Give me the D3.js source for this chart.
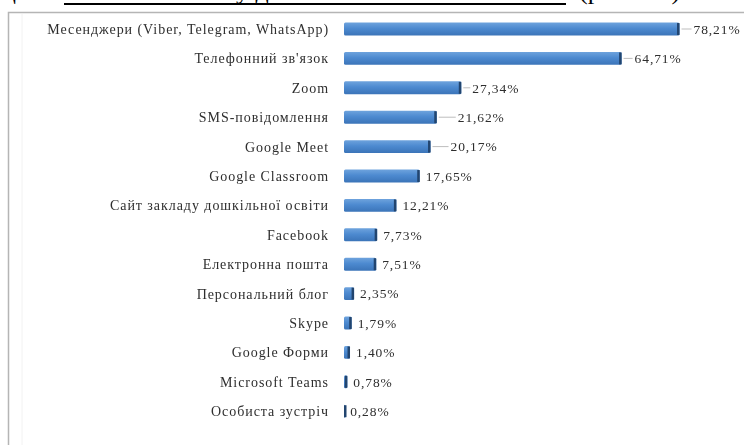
<!DOCTYPE html>
<html><head><meta charset="utf-8">
<script src="https://cdn.jsdelivr.net/npm/d3@7/dist/d3.min.js"></script>
<style>html,body{margin:0;padding:0;background:#fff;}svg{display:block;}</style>
</head><body>
<svg id="chart" width="744" height="445"></svg>
<script>
const categories = [
  "Месенджери (Viber, Telegram, WhatsApp)",
  "Телефонний зв'язок",
  "Zoom",
  "SMS-повідомлення",
  "Google Meet",
  "Google Classroom",
  "Сайт закладу дошкільної освіти",
  "Facebook",
  "Електронна пошта",
  "Персональний блог",
  "Skype",
  "Google Форми",
  "Microsoft Teams",
  "Особиста зустріч"
];
const values = [78.21, 64.71, 27.34, 21.62, 20.17, 17.65, 12.21, 7.73, 7.51, 2.35, 1.79, 1.40, 0.78, 0.28];
const valueLabels = ["78,21%","64,71%","27,34%","21,62%","20,17%","17,65%","12,21%","7,73%","7,51%","2,35%","1,79%","1,40%","0,78%","0,28%"];

const svg = d3.select("#chart");
svg.append("rect").attr("width",744).attr("height",445).attr("fill","#fff");

// page fragment above the figure (cut off in the reference as well)
svg.append("line").attr("x1",64).attr("x2",566).attr("y1",4).attr("y2",4)
  .attr("stroke","#000").attr("stroke-width",2);
const topText = svg.append("g").attr("font-family","Liberation Serif").attr("font-size",26).attr("fill","#000");
topText.append("text").attr("x",2).attr("y",-1).text("ц");
topText.append("text").attr("x",236).attr("y",-1).text("у д");
topText.append("text").attr("x",579).attr("y",-1).text("(рис. 2.6).");

// chart frame
svg.append("rect").attr("x",8.5).attr("y",12.5).attr("width",800).attr("height",500)
  .attr("fill","none").attr("stroke","#b5b5b5").attr("stroke-width",1.5);
svg.append("line").attr("x1",22).attr("x2",22).attr("y1",14).attr("y2",445)
  .attr("stroke","#f2f2f2").attr("stroke-width",1);

const defs = svg.append("defs");
const grad = defs.append("linearGradient").attr("id","barGrad").attr("x1",0).attr("x2",0).attr("y1",0).attr("y2",1);
grad.append("stop").attr("offset","0%").attr("stop-color","#6ea3dd");
grad.append("stop").attr("offset","45%").attr("stop-color","#4d8ad0");
grad.append("stop").attr("offset","100%").attr("stop-color","#3b74b8");
defs.append("filter").attr("id","soft").append("feGaussianBlur").attr("stdDeviation",0.35);

const x = d3.scaleLinear().domain([0,100]).range([344,773]);
const y = d3.scaleBand().domain(categories).range([14.3,425.9]).paddingInner(0.56).paddingOuter(0.28);

const rowsData = categories.map((c,i)=>({c, v:values[i], l:valueLabels[i], i}));
const g = svg.append("g");
const rows = g.selectAll("g.row").data(rowsData).join("g").attr("class","row");

rows.append("rect")
  .attr("x", x(0)).attr("y", d=>y(d.c))
  .attr("width", d=>Math.max(x(d.v)-x(0),1.5)).attr("height", y.bandwidth())
  .attr("rx",1.5).attr("fill","url(#barGrad)");
rows.append("rect")
  .attr("x", d=>Math.max(x(d.v)-2.5, x(0))).attr("y", d=>y(d.c)+0.5)
  .attr("width", 2.5).attr("height", y.bandwidth()-1)
  .attr("fill","#22456f");

// Data labels: the first bars have labels pulled away with leader lines
const labelShift = [14,13,11,21,20,6,6,6,6,6,6,6,6,5];
rows.filter(d=>labelShift[d.i]>8).append("line")
  .attr("x1", d=>x(d.v)+2).attr("x2", d=>x(d.v)+labelShift[d.i]-2)
  .attr("y1", d=>y(d.c)+y.bandwidth()/2).attr("y2", d=>y(d.c)+y.bandwidth()/2)
  .attr("stroke","#bdbdbd").attr("stroke-width",1);

const tg = svg.append("g").attr("filter","url(#soft)");
tg.selectAll("text.val").data(rowsData)
  .join("text").attr("class","val")
  .attr("x", d=>x(d.v)+labelShift[d.i]).attr("y", d=>y(d.c)+y.bandwidth()/2)
  .attr("dy","0.36em")
  .attr("font-family","Liberation Serif").attr("font-size",13.5).attr("letter-spacing",0.9)
  .attr("fill","#2e2e2e").text(d=>d.l);

tg.selectAll("text.cat").data(categories)
  .join("text").attr("class","cat")
  .attr("x",329).attr("y", d=>y(d)+y.bandwidth()/2).attr("dy","0.36em")
  .attr("text-anchor","end")
  .attr("font-family","Liberation Serif").attr("font-size",14).attr("letter-spacing",0.95)
  .attr("fill","#2e2e2e").text(d=>d);
</script>
</body></html>
